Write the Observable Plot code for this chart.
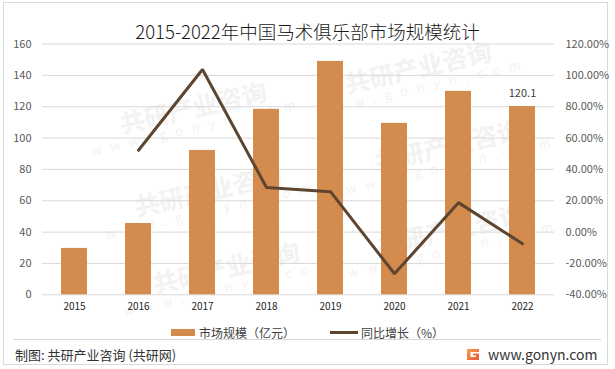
<!DOCTYPE html>
<html>
<head>
<meta charset="utf-8">
<script src="https://cdn.jsdelivr.net/npm/d3@7"></script>
<script src="https://cdn.jsdelivr.net/npm/@observablehq/plot@0.6"></script>
<style>
  html, body { margin: 0; padding: 0; background: #fff; }
  #wrap { position: relative; width: 615px; height: 369px; background: #fff; overflow: hidden;
          font-family: "Noto Sans CJK SC", "Noto Sans", sans-serif; }
  #frame { position: absolute; left: 3px; top: 2px; width: 605px; height: 363px; box-sizing: border-box;
           border: 1px solid #d9d9d9; }
  .wm { position: absolute; color: #f2f2f2; white-space: nowrap; transform: rotate(-13deg); transform-origin: center; text-align: center; }
  .wm b { display: block; font-size: 25px; line-height: 28px; font-weight: 700; }
  .wm i { display: block; font-style: normal; font-size: 13px; letter-spacing: 9px; line-height: 14px; }
  #title { position: absolute; left: 0; top: 20px; width: 615px; text-align: center; font-size: 18.5px; font-weight: 300;
           line-height: 22px; color: #1a1a1a; }
  #chart { position: absolute; left: 0; top: 0; }
  .leg { position: absolute; font-size: 12px; line-height: 14px; color: #404040; white-space: nowrap; }
  #sep { position: absolute; left: 13px; top: 339px; width: 588px; height: 1px; background: #d9d9d9; }
  #src { position: absolute; left: 15px; top: 346px; font-size: 13px; line-height: 18px; color: #333; white-space: nowrap; }
  #site { position: absolute; left: 488px; top: 345px; font-size: 14px; line-height: 18px; color: #333; white-space: nowrap; }
  #logo { position: absolute; left: 466px; top: 348px; }
</style>
</head>
<body>
<div id="wrap">
  <div class="wm" style="left:85px;top:92px"><b>共研产业咨询</b><i>www.gonyn.com</i></div>
  <div class="wm" style="left:100px;top:175px"><b>共研产业咨询</b><i>www.gonyn.com</i></div>
  <div class="wm" style="left:118px;top:252px"><b>共研产业咨询</b><i>www.gonyn.com</i></div>
  <div class="wm" style="left:310px;top:52px"><b>共研产业咨询</b><i>www.gonyn.com</i></div>
  <div class="wm" style="left:340px;top:130px"><b>共研产业咨询</b><i>www.gonyn.com</i></div>
  <div class="wm" style="left:342px;top:214px"><b>共研产业咨询</b><i>www.gonyn.com</i></div>
  <div id="frame"></div>
  <div id="chart"></div>
  <div id="title">2015-2022年中国马术俱乐部市场规模统计</div>
  <div style="position:absolute;left:171px;top:329px;width:24px;height:7px;background:#d38b4e"></div>
  <div class="leg" style="left:199px;top:326px">市场规模（亿元）</div>
  <div style="position:absolute;left:330px;top:331px;width:28px;height:3px;background:#5e4530"></div>
  <div class="leg" style="left:361px;top:326px">同比增长（%）</div>
  <div id="sep"></div>
  <div id="src">制图: 共研产业咨询 (共研网)</div>
  <svg id="logo" width="14" height="13" viewBox="0 0 14 13">
    <defs><linearGradient id="lg" x1="0" y1="0" x2="1" y2="1">
      <stop offset="0" stop-color="#f7a24a"/><stop offset="1" stop-color="#e8573a"/></linearGradient></defs>
    <path d="M1 1 H13 V4 H4.5 V9 H10 V7.5 H7 V5.5 H13 V12 H1 Z" fill="url(#lg)"/>
  </svg>
  <div id="site">www.gonyn.com</div>
</div>
<script>
const years = ["2015", "2016", "2017", "2018", "2019", "2020", "2021", "2022"];
const marketSize = [29.6, 45.5, 92.1, 118.3, 148.9, 109.4, 129.8, 120.1];
const growthYears = ["2016", "2017", "2018", "2019", "2020", "2021", "2022"];
const growthPct = [52.2, 103.7, 28.5, 25.8, -26.6, 18.8, -7.4];
const leftTicks = [0, 20, 40, 60, 80, 100, 120, 140, 160];
const rightTicks = [-40, -20, 0, 20, 40, 60, 80, 100, 120];
const labelYears = ["2022"];

const bars = years.map((y, i) => ({year: y, value: marketSize[i]}));
const growth = growthYears.map((y, i) => ({year: y, pct: growthPct[i]}));
const labels = bars.filter(d => labelYears.includes(d.year));

// right axis (-40..120 %) maps onto left axis (0..160) by an offset of 40
const toLeft = p => p + 40;

const chart = Plot.plot({
  width: 615,
  height: 369,
  marginTop: 43.5,
  marginBottom: 74.7,
  marginLeft: 42,
  marginRight: 61,
  style: {fontFamily: "'Noto Sans CJK SC', 'Noto Sans', sans-serif", fontSize: "11px", color: "#595959", background: "transparent"},
  x: {type: "band", domain: years, paddingInner: 0.59, paddingOuter: 0.295},
  y: {domain: [0, 160]},
  marks: [
    Plot.gridY(leftTicks, {stroke: "#d9d9d9", strokeOpacity: 1}),
    Plot.axisY(leftTicks, {anchor: "left", tickSize: 0, tickPadding: 11, label: null, fill: "#595959", fontSize: 11}),
    Plot.axisY(rightTicks.map(toLeft), {anchor: "right", tickSize: 0, tickPadding: 11, label: null, fill: "#595959", fontSize: 11,
      tickFormat: d => (d - 40).toFixed(2) + "%"}),
    Plot.axisX({tickSize: 0, tickPadding: 8.5, label: null, fill: "#262626", fontSize: 10}),
    Plot.barY(bars, {x: "year", y: "value", fill: "#d38b4e"}),
    Plot.line(growth, {x: "year", y: d => toLeft(d.pct), stroke: "#5e4530", strokeWidth: 3, strokeLinejoin: "miter"}),
    Plot.text(labels, {x: "year", y: "value", text: d => d.value.toFixed(1), dy: -13, fill: "#404040", fontSize: 11})
  ]
});
document.getElementById("chart").appendChild(chart);
</script>
</body>
</html>
